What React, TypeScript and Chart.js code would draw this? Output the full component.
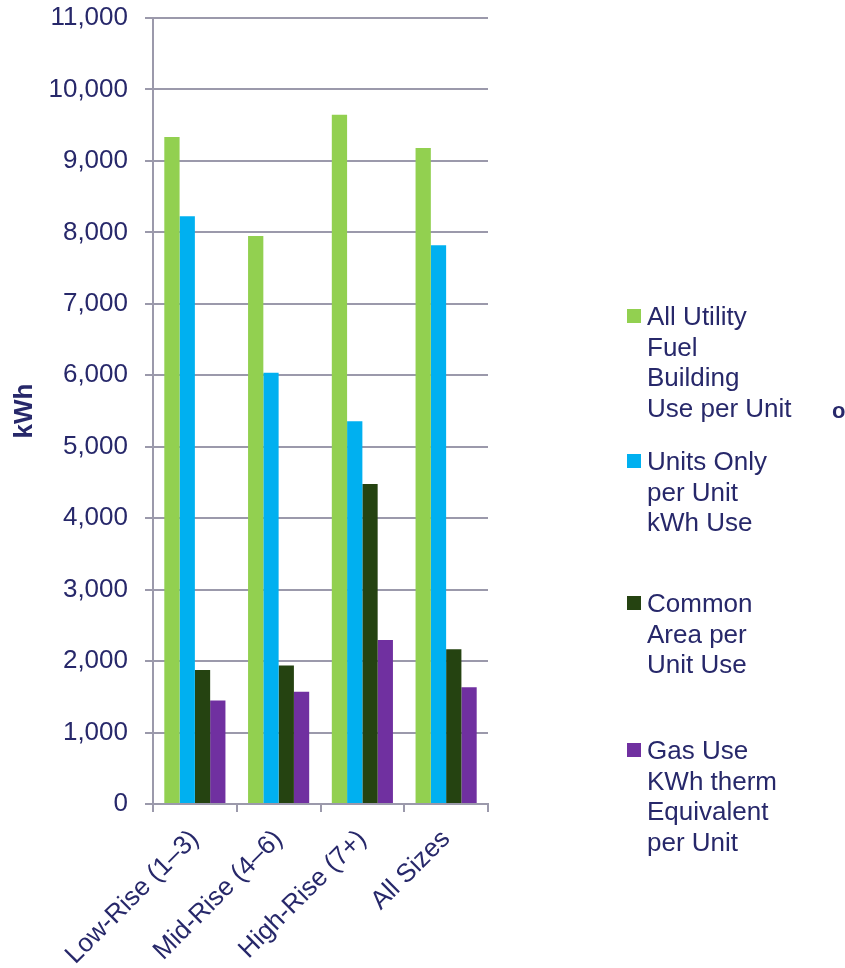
import React, { useEffect, useRef } from "react";
import { Chart, registerables } from "chart.js";

Chart.register(...registerables);

const categories = ["Low-Rise (1–3)", "Mid-Rise (4–6)", "High-Rise (7+)", "All Sizes"];
const allUtility = [9335, 7950, 9645, 9180];
const unitsOnly = [8225, 6035, 5355, 7820];
const commonArea = [1875, 1940, 4480, 2165];
const gasUse = [1450, 1570, 2295, 1635];

const seriesNames = [
  ["All Utility", "Fuel", "Building", "Use per Unit"],
  ["Units Only", "per Unit", "kWh Use"],
  ["Common", "Area per", "Unit Use"],
  ["Gas Use", "KWh therm", "Equivalent", "per Unit"],
];
const seriesColors = ["#92d050", "#00b0f0", "#254311", "#7030a0"];
const legendTops = [301, 446, 588, 735];

const TEXT = "#27286a";
const GRID = "#9b99ab";
const FONT = "'Liberation Sans', Arial, sans-serif";

export default function App() {
  const ref = useRef<HTMLCanvasElement | null>(null);

  useEffect(() => {
    if (!ref.current) return;
    const values = [allUtility, unitsOnly, commonArea, gasUse];
    const chart = new Chart(ref.current, {
      type: "bar",
      data: {
        labels: categories,
        datasets: values.map((v, i) => ({
          label: seriesNames[i].join(" "),
          data: v,
          backgroundColor: seriesColors[i],
          borderWidth: 0,
          categoryPercentage: 0.73,
          barPercentage: 1,
        })),
      },
      options: {
        responsive: false,
        animation: false,
        devicePixelRatio: 1,
        layout: { padding: { top: 18, right: 357, left: 0, bottom: 0 } },
        plugins: { legend: { display: false }, tooltip: { enabled: false } },
        scales: {
          x: {
            grid: {
              display: true,
              drawOnChartArea: false,
              drawTicks: true,
              tickLength: 8,
              color: GRID,
              lineWidth: 2,
              offset: true,
            },
            border: { display: true, color: GRID, width: 2 },
            ticks: {
              color: TEXT,
              font: { family: FONT, size: 26 },
              maxRotation: 45,
              minRotation: 45,
              padding: 12,
              autoSkip: false,
            },
            afterFit: (s: any) => {
              s.height = 164;
            },
          },
          y: {
            min: 0,
            max: 11000,
            ticks: {
              stepSize: 1000,
              color: TEXT,
              font: { family: FONT, size: 26 },
              padding: 17,
              callback: (v: any) => Number(v).toLocaleString("en-US"),
            },
            grid: { color: GRID, lineWidth: 2, tickLength: 8, drawTicks: true },
            border: { display: true, color: GRID, width: 2 },
            title: {
              display: true,
              text: "kWh",
              color: TEXT,
              font: { family: FONT, size: 26, weight: "bold" },
              padding: { top: 9, bottom: 0 },
            },
            afterFit: (s: any) => {
              s.width = 153;
              s.paddingTop = 0;
              s.paddingBottom = 0;
            },
          },
        },
      },
    });
    return () => chart.destroy();
  }, []);

  return (
    <div style={{ position: "absolute", left: 0, top: 0, width: 845, height: 968, background: "#fff", overflow: "hidden" }}>
      <canvas ref={ref} width={845} height={968} style={{ position: "absolute", left: 0, top: 0 }} />
      {seriesNames.map((lines, i) => (
        <div key={i} style={{ position: "absolute", left: 627, top: legendTops[i], fontFamily: FONT, fontSize: 26, lineHeight: "30.5px", color: TEXT }}>
          <div style={{ position: "absolute", left: 0, top: 8, width: 14, height: 14, background: seriesColors[i] }} />
          <div style={{ marginLeft: 20, whiteSpace: "nowrap" }}>
            {lines.map((l, j) => (
              <div key={j}>{l}</div>
            ))}
          </div>
        </div>
      ))}
      <div style={{ position: "absolute", left: 832, top: 398, fontFamily: FONT, fontSize: 22, fontWeight: "bold", color: TEXT }}>o</div>
    </div>
  );
}
